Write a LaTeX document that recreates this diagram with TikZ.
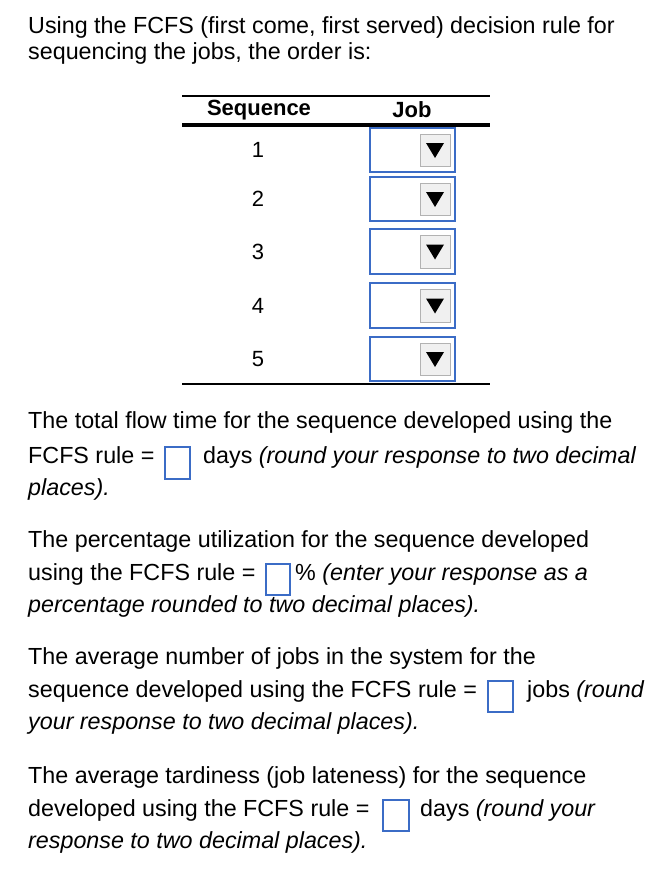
\documentclass[tikz,border=0pt]{standalone}
\usepackage{fontspec}
\setmainfont{Liberation Sans}
\begin{document}
\begin{tikzpicture}[x=1pt,y=-1pt,
  txt/.style={anchor=mid west,inner sep=0pt,font=\fontsize{23.3}{27}\selectfont},
  cell/.style={anchor=center,inner sep=0pt,font=\fontsize{22}{26}\selectfont},
  ibox/.style={draw=boxblue,line width=1.2pt,fill=white},
  btn/.style={draw=gray!60,fill=gray!12,line width=0.6pt}]
\definecolor{boxblue}{HTML}{3B6CC6}
\useasboundingbox[fill=white] (0,0) rectangle (656,872);
\node[txt] (l1) at (28,31) {Using the FCFS (first come, first served) decision rule for};
\node[txt] (l2) at (28,57) {sequencing the jobs, the order is:};
% table
\draw[line width=2pt] (182,96) -- (490,96);
\draw[line width=3.5pt] (182,125) -- (490,125);
\draw[line width=2pt] (182,384) -- (490,384);
\node[cell,font=\fontsize{22}{26}\selectfont\bfseries] (hs) at (259,110) {Sequence};
\node[cell,font=\fontsize{22}{26}\selectfont\bfseries] (hj) at (412,110) {Job};
\foreach \n/\t/\b in {1/128/172,2/177/221,3/229/274,4/283/328,5/337/381}{
  \node[cell] (s\n) at (258,{(\t+\b)/2}) {\n};
  \draw[ibox] (370,\t) rectangle (455,\b);
  \draw[btn] (420,{\t+6}) rectangle (450,{\b-6});
  \fill ({426},{(\t+\b)/2-7}) -- (444,{(\t+\b)/2-7}) -- (435,{(\t+\b)/2+8}) -- cycle;
}
% paragraph 1
\node[txt] (p11) at (28,426) {The total flow time for the sequence developed using the};
\node[txt] (p12) at (28,461) {FCFS rule =};
\draw[ibox] (165,447) rectangle (190,479);
\node[txt] (p12b) at (203,461) {days \textit{(round your response to two decimal}};
\node[txt] (p13) at (28,493) {\textit{places).}};
% paragraph 2
\node[txt] (p21) at (28,545) {The percentage utilization for the sequence developed};
\node[txt] (p22) at (28,578) {using the FCFS rule =};
\draw[ibox] (266,564) rectangle (290,595);
\node[txt] (p22b) at (295,578) {\% \textit{(enter your response as a}};
\node[txt] (p23) at (28,610) {\textit{percentage rounded to two decimal places).}};
% paragraph 3
\node[txt] (p31) at (28,662) {The average number of jobs in the system for the};
\node[txt] (p32) at (28,695) {sequence developed using the FCFS rule =};
\draw[ibox] (488,681) rectangle (513,712);
\node[txt] (p32b) at (527,695) {jobs \textit{(round}};
\node[txt] (p33) at (28,727) {\textit{your response to two decimal places).}};
% paragraph 4
\node[txt] (p41) at (28,781) {The average tardiness (job lateness) for the sequence};
\node[txt] (p42) at (28,814) {developed using the FCFS rule =};
\draw[ibox] (383,800) rectangle (409,831);
\node[txt] (p42b) at (420,814) {days \textit{(round your}};
\node[txt] (p43) at (28,846) {\textit{response to two decimal places).}};
\end{tikzpicture}
\end{document}
